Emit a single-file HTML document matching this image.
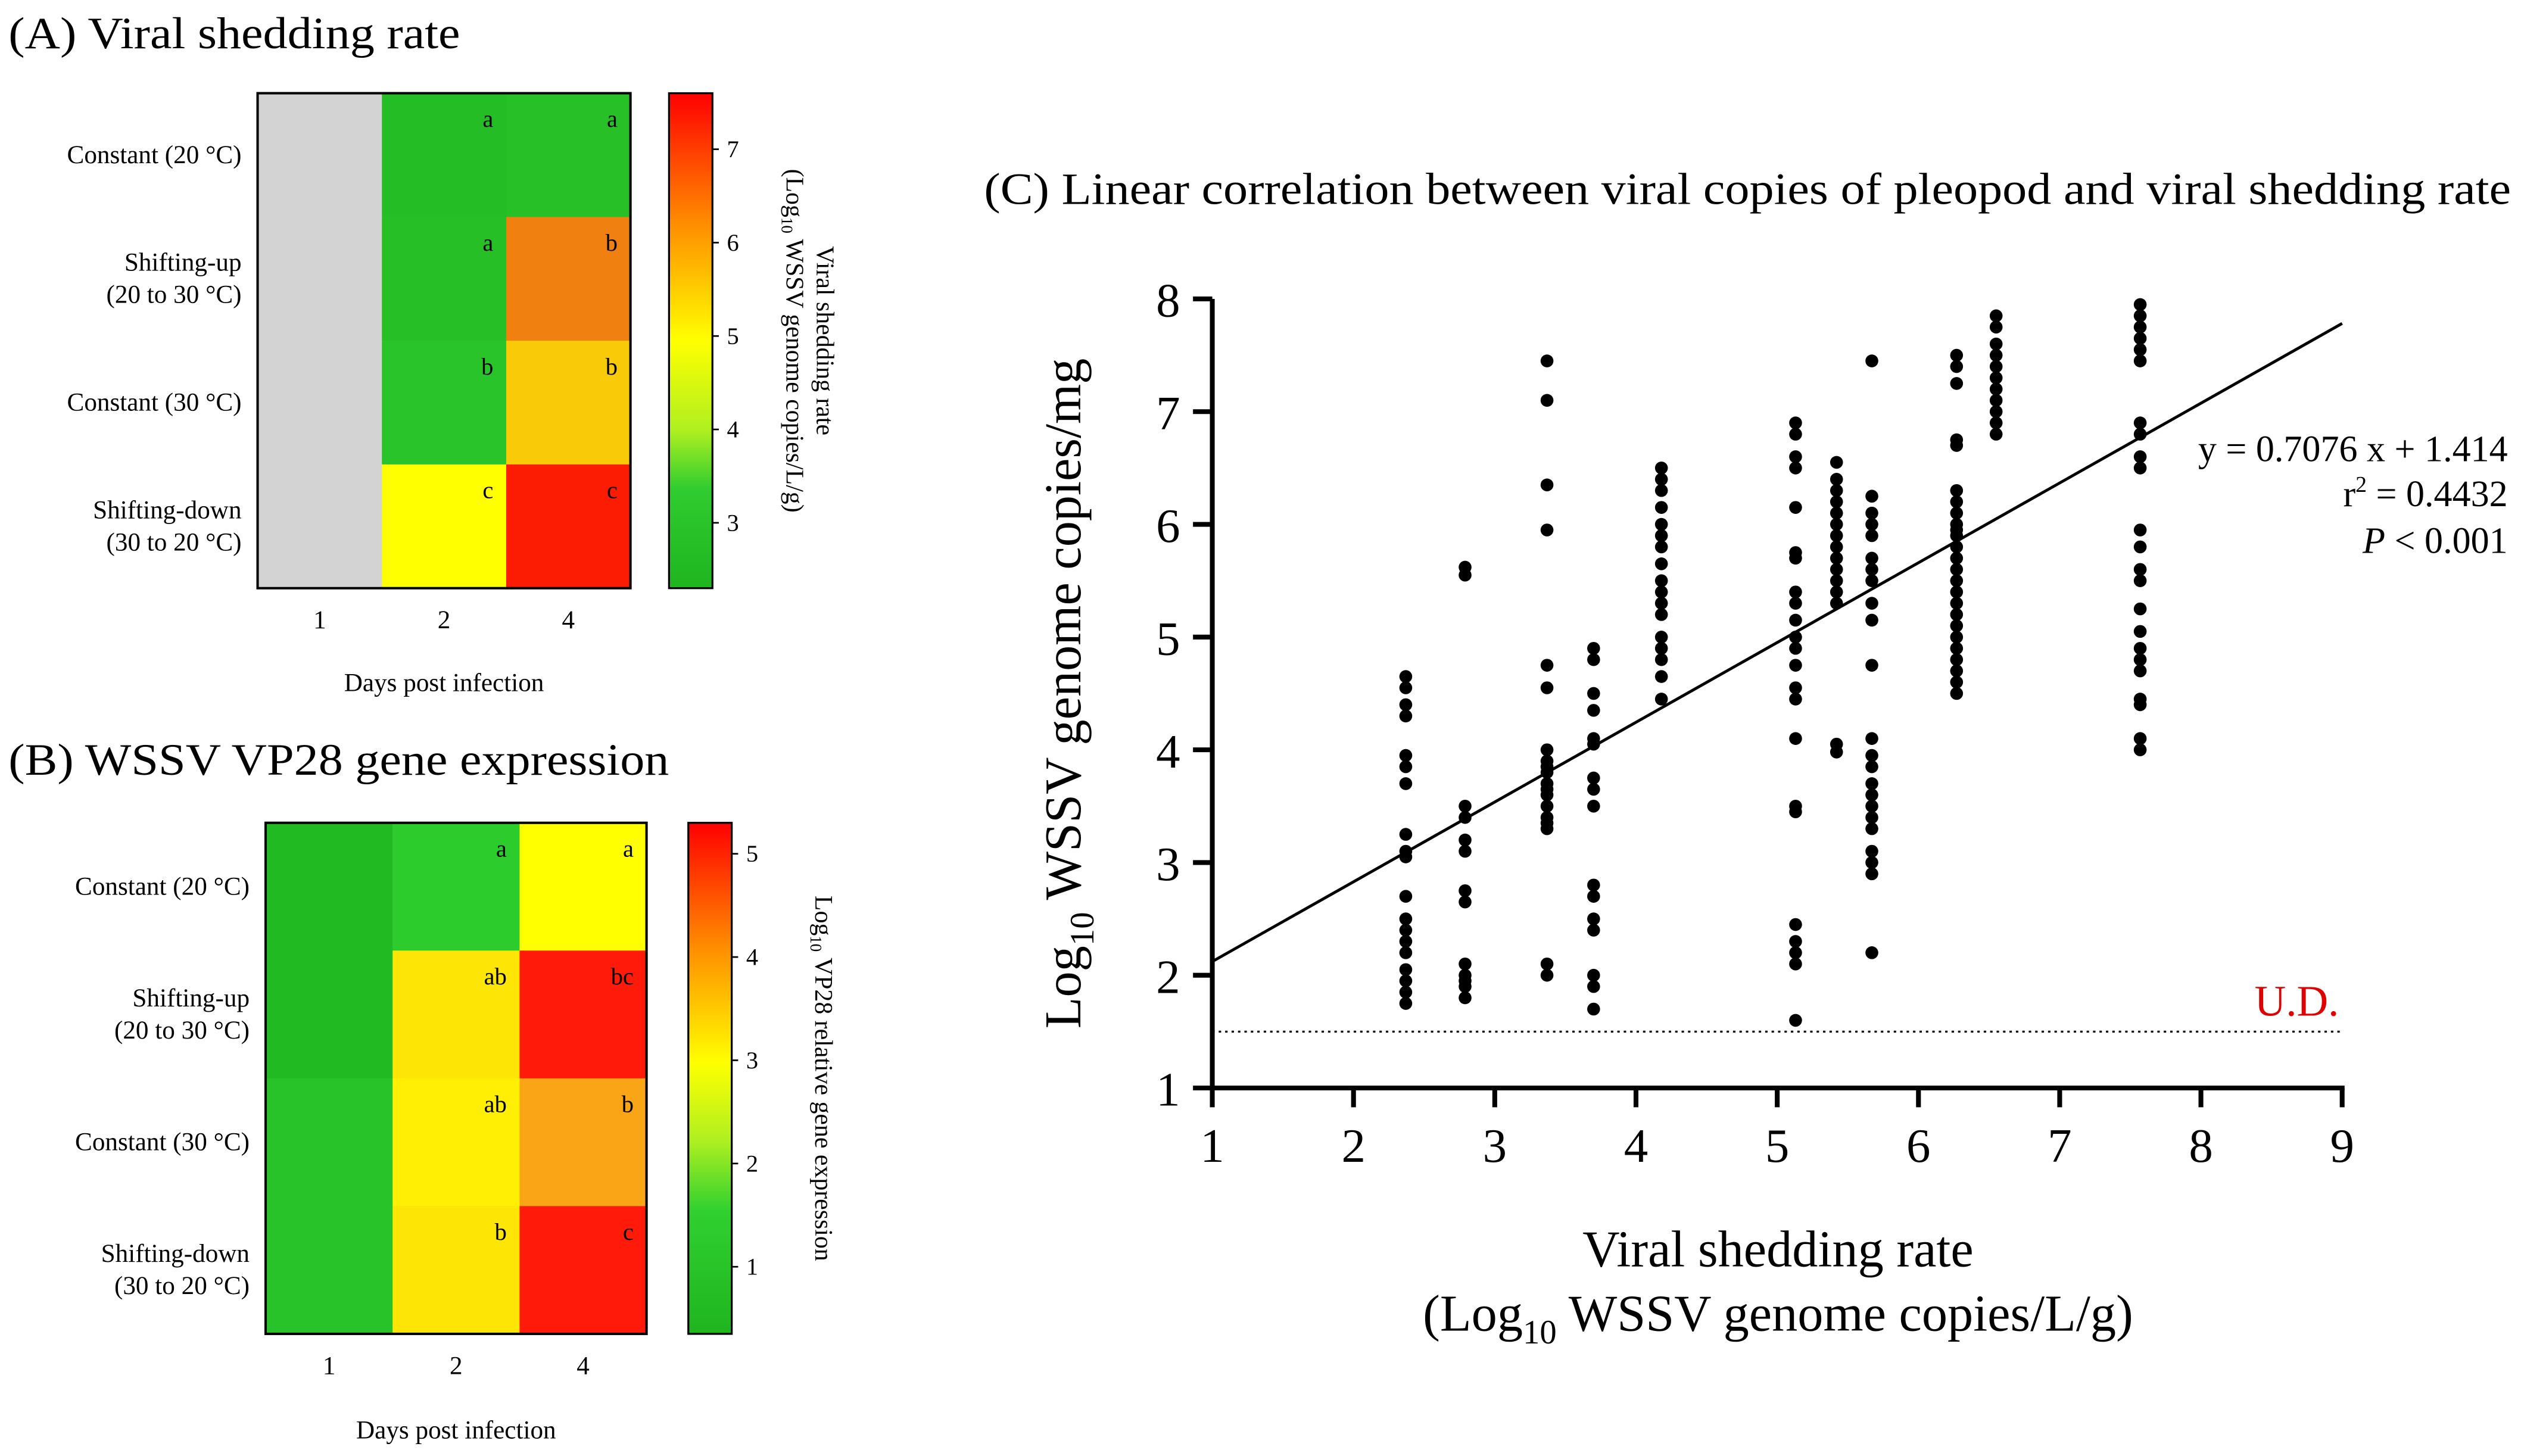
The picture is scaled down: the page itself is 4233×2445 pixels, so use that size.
<!DOCTYPE html>
<html><head><meta charset="utf-8"><style>
html,body{margin:0;padding:0;background:#fff;}
svg{display:block;font-family:"Liberation Serif",serif;}
</style></head><body>
<svg id="fig" width="4233" height="2445" viewBox="0 0 1568 906" xmlns="http://www.w3.org/2000/svg">
<defs>
<linearGradient id="gA" x1="0" y1="0" x2="0" y2="1">
<stop offset="0" stop-color="#ff0000"/><stop offset="0.27" stop-color="#ff9000"/><stop offset="0.5" stop-color="#ffff00"/><stop offset="0.68" stop-color="#b0f020"/><stop offset="0.8" stop-color="#2fcc2f"/><stop offset="1" stop-color="#1fb51f"/>
</linearGradient>
<linearGradient id="gB" x1="0" y1="0" x2="0" y2="1">
<stop offset="0" stop-color="#ff0000"/><stop offset="0.25" stop-color="#ff9000"/><stop offset="0.47" stop-color="#ffff00"/><stop offset="0.62" stop-color="#b0f020"/><stop offset="0.76" stop-color="#30d030"/><stop offset="1" stop-color="#1fb51f"/>
</linearGradient>
</defs>
<g id="pA"></g>
<g id="pB"></g>
<g id="pC"></g>
</svg>
<script>
// ---------- Heatmap data ----------
const dayLabels = ['1','2','4'];
const rowLabelsA = [['Constant (20 °C)'],['Shifting-up','(20 to 30 °C)'],['Constant (30 °C)'],['Shifting-down','(30 to 20 °C)']];
const valuesA = [[null,2.8,3.0],[null,2.9,6.2],[null,3.2,5.5],[null,5.0,7.3]];
const lettersA = [['','a','a'],['','a','b'],['','b','b'],['','c','c']];
const ticksA = [3,4,5,6,7];
const valuesB = [[0.5,1.3,2.9],[0.5,3.2,5.0],[0.9,3.1,4.0],[0.9,3.2,5.0]];
const lettersB = [['','a','a'],['','ab','bc'],['','ab','b'],['','b','c']];
const ticksB = [1,2,3,4,5];
// ---------- Scatter data ----------
const groupX = [2.37,2.79,3.37,3.70,4.18,5.13,5.42,5.67,6.27,6.55,7.57];
const groupY = [
[4.65,4.55,4.4,4.3,3.95,3.85,3.7,3.25,3.1,3.05,2.7,2.5,2.4,2.3,2.2,2.05,1.95,1.85,1.75],
[5.62,5.55,3.5,3.4,3.2,3.1,2.75,2.65,2.1,2.0,1.95,1.9,1.8],
[7.45,7.1,6.35,5.95,4.75,4.55,4.0,3.9,3.85,3.8,3.7,3.65,3.6,3.5,3.4,3.35,3.3,2.1,2.0],
[4.9,4.8,4.5,4.35,4.1,4.05,3.75,3.65,3.5,2.8,2.7,2.5,2.4,2.0,1.9,1.7],
[6.5,6.4,6.3,6.15,6.0,5.9,5.8,5.65,5.5,5.4,5.3,5.2,5.0,4.9,4.8,4.65,4.45],
[6.9,6.8,6.6,6.5,6.15,5.75,5.7,5.4,5.3,5.15,5.0,4.9,4.75,4.55,4.45,4.1,3.5,3.45,2.45,2.3,2.2,2.1,1.6],
[6.55,6.4,6.3,6.2,6.1,6.0,5.9,5.8,5.7,5.6,5.5,5.4,5.3,4.05,3.98],
[7.45,6.25,6.1,6.0,5.9,5.7,5.6,5.5,5.3,5.15,4.75,4.1,3.95,3.85,3.7,3.6,3.5,3.4,3.3,3.1,3.0,2.9,2.2],
[7.5,7.4,7.25,6.75,6.7,6.3,6.2,6.1,6.0,5.95,5.9,5.8,5.7,5.6,5.5,5.4,5.3,5.2,5.1,5.0,4.9,4.8,4.7,4.6,4.5],
[7.85,7.75,7.6,7.5,7.4,7.3,7.2,7.1,7.0,6.9,6.8],
[7.95,7.85,7.75,7.65,7.55,7.45,6.9,6.8,6.6,6.5,5.95,5.8,5.6,5.5,5.25,5.05,4.9,4.8,4.7,4.45,4.4,4.1,4.0]
];
const slope = 0.7076, intercept = 1.414;
const xTicks = [1,2,3,4,5,6,7,8,9];
const yTicks = [1,2,3,4,5,6,7,8];
const udLevel = 1.5;

const NS='http://www.w3.org/2000/svg';
function mk(tag, attrs, parent, text){const e=document.createElementNS(NS,tag);for(const k in attrs)e.setAttribute(k,attrs[k]);if(text!==undefined)e.textContent=text;parent.appendChild(e);return e;}
function hex(c){return [parseInt(c.slice(1,3),16),parseInt(c.slice(3,5),16),parseInt(c.slice(5,7),16)];}
function scaleColor(stops,v){if(v<=stops[0][0])return stops[0][1];for(let i=1;i<stops.length;i++){if(v<=stops[i][0]){const t=(v-stops[i-1][0])/(stops[i][0]-stops[i-1][0]);const a=hex(stops[i-1][1]),b=hex(stops[i][1]);return 'rgb('+a.map((x,j)=>Math.round(x+(b[j]-x)*t)).join(',')+')';}}return stops[stops.length-1][1];}
const stopsA=[[2.3,'#1fb51f'],[3.7,'#2fcc2f'],[4.3,'#b0f020'],[5.0,'#ffff00'],[6.2,'#f08010'],[7.6,'#ff0000']];
const stopsB=[[0.3,'#1fb51f'],[1.5,'#30d030'],[2.2,'#b0f020'],[2.9,'#ffff00'],[4,'#f9a515'],[5.0,'#ff1a0a']];

function heatmap(g, cfg){
  const t=mk('text',{x:5,y:cfg.titleY,'font-size':28,textLength:cfg.titleLen,lengthAdjust:'spacingAndGlyphs'},g,cfg.title);
  
  
  const cw=(cfg.x1-cfg.x0)/3, rh=(cfg.y1-cfg.y0)/4;
  cfg.values.forEach((row,r)=>row.forEach((v,c)=>{
    const rect=mk('rect',{x:cfg.x0+c*cw,y:cfg.y0+r*rh,width:cw+0.5,height:rh+0.5,fill:v===null?'#d3d3d3':scaleColor(cfg.stops,v)},g);
    
    
    if(cfg.letters[r][c]){const l=mk('text',{x:cfg.x0+(c+1)*cw-8,y:cfg.y0+r*rh+21,'font-size':15,'text-anchor':'end'},g,cfg.letters[r][c]);
      
      }
  }));
  mk('rect',{x:cfg.x0,y:cfg.y0,width:cfg.x1-cfg.x0,height:cfg.y1-cfg.y0,fill:'none',stroke:'#000','stroke-width':1.5},g);
  rowLabelsA.forEach((lab,r)=>{const cy=cfg.y0+(r+0.5)*rh;lab.forEach((s,i)=>{
    const tt=mk('text',{x:cfg.x0-10,y:cy+5+(i-(lab.length-1)/2)*20,'font-size':16,'text-anchor':'end'},g,s);
    
    });});
  dayLabels.forEach((d,c)=>{const tt=mk('text',{x:cfg.x0+(c+0.5)*cw,y:cfg.y1+25,'font-size':16,'text-anchor':'middle'},g,d);
    
    });
  const xt=mk('text',{x:(cfg.x0+cfg.x1)/2,y:cfg.xtY,'font-size':16,'text-anchor':'middle'},g,'Days post infection');
  
  
  const cb=mk('rect',{x:cfg.cbx,y:cfg.y0,width:27,height:cfg.y1-cfg.y0,fill:cfg.grad,stroke:'#000','stroke-width':1.2},g);
  
  
  cfg.ticks.forEach(v=>{const y=cfg.y1-(v-cfg.cmin)/(cfg.cmax-cfg.cmin)*(cfg.y1-cfg.y0);
    mk('line',{x1:cfg.cbx+27,x2:cfg.cbx+31,y1:y,y2:y,stroke:'#000'},g);
    const tt=mk('text',{x:cfg.cbx+36,y:y+5,'font-size':15},g,String(v));
    
    });
  const cy=(cfg.y0+cfg.y1)/2;
  cfg.cbLabel.forEach((s,i)=>{const tt=mk('text',{x:0,y:0,'font-size':15.5,'text-anchor':'middle',transform:`translate(${cfg.cbLx-i*19},${cy}) rotate(90)`},g);
    tt.innerHTML=s;
    
    });
}
heatmap(document.getElementById('pA'),{title:'(A) Viral shedding rate',titleY:30,titleLen:281,x0:160,x1:392,y0:58,y1:366,values:valuesA,letters:lettersA,stops:stopsA,grad:'url(#gA)',cbx:416,ticks:ticksA,cmin:2.3,cmax:7.6,xtY:430,
  cbLabel:['Viral shedding rate','(Log<tspan font-size="10" dy="3">10</tspan><tspan dy="-3"> WSSV genome copies/L/g)</tspan>'],cbLx:508});
heatmap(document.getElementById('pB'),{title:'(B) WSSV VP28 gene expression',titleY:482,titleLen:411,x0:165,x1:402,y0:512,y1:830,values:valuesB,letters:lettersB,stops:stopsB,grad:'url(#gB)',cbx:428,ticks:ticksB,cmin:0.35,cmax:5.3,xtY:895,
  cbLabel:['Log<tspan font-size="10" dy="3">10</tspan><tspan dy="-3"> VP28 relative gene expression</tspan>'],cbLx:507});

// ---------- Scatter ----------
const g=document.getElementById('pC');
const X0=754,X1=1457,Y0=677,Y1=186;
const sx=v=>X0+(v-1)/8*(X1-X0), sy=v=>Y0-(v-1)/7*(Y0-Y1);
const ct=mk('text',{x:612,y:127,'font-size':28,textLength:950,lengthAdjust:'spacingAndGlyphs'},g,'(C) Linear correlation between viral copies of pleopod and viral shedding rate');


mk('line',{x1:X0,x2:X0,y1:Y0+1.5,y2:Y1,stroke:'#000','stroke-width':3},g);
mk('line',{x1:X0-1.5,x2:X1+1.5,y1:Y0,y2:Y0,stroke:'#000','stroke-width':3},g);
xTicks.forEach(v=>{mk('line',{x1:sx(v),x2:sx(v),y1:Y0,y2:Y0+12,stroke:'#000','stroke-width':3},g);
  const t=mk('text',{x:sx(v),y:Y0+46,'font-size':30,'text-anchor':'middle'},g,String(v));
  
  });
yTicks.forEach(v=>{mk('line',{x1:X0-12,x2:X0,y1:sy(v),y2:sy(v),stroke:'#000','stroke-width':3},g);
  const t=mk('text',{x:X0-20,y:sy(v)+11,'font-size':30,'text-anchor':'end'},g,String(v));
  
  });
const yt=mk('text',{x:0,y:0,'font-size':32,'text-anchor':'middle',transform:`translate(672,${(Y0+Y1)/2}) rotate(-90)`},g);
yt.innerHTML='Log<tspan font-size="21" dy="8">10</tspan><tspan dy="-8"> WSSV genome copies/mg</tspan>';


const xt1=mk('text',{x:1106,y:788,'font-size':32,'text-anchor':'middle'},g,'Viral shedding rate');


const xt2=mk('text',{x:1106,y:828,'font-size':32,'text-anchor':'middle'},g);
xt2.innerHTML='(Log<tspan font-size="21" dy="8">10</tspan><tspan dy="-8"> WSSV genome copies/L/g)</tspan>';


const ud=mk('line',{x1:X0,x2:X1,y1:sy(udLevel),y2:sy(udLevel),stroke:'#000','stroke-width':1.2,'stroke-dasharray':'1.5,2.5'},g);


const udt=mk('text',{x:1455,y:sy(udLevel)-10,'font-size':27,'text-anchor':'end',fill:'#e00000'},g,'U.D.');


const rl=mk('line',{x1:sx(1),y1:sy(slope*1+intercept),x2:sx(9),y2:sy(slope*9+intercept),stroke:'#000','stroke-width':1.8},g);


groupX.forEach((x,i)=>groupY[i].forEach(y=>{
  const c=mk('circle',{cx:sx(x),cy:sy(y),r:4,fill:'#000'},g);
  
  
}));
const eq=[['y = 0.7076 x + 1.414',287],['r<tspan font-size="14" dy="-9">2</tspan><tspan dy="9"> = 0.4432</tspan>',315],['<tspan font-style="italic">P</tspan> &lt; 0.001',344]];
eq.forEach(([s,y])=>{const t=mk('text',{x:1560,y:y,'font-size':23,'text-anchor':'end'},g);t.innerHTML=s;
  
  });
</script>
</body></html>
